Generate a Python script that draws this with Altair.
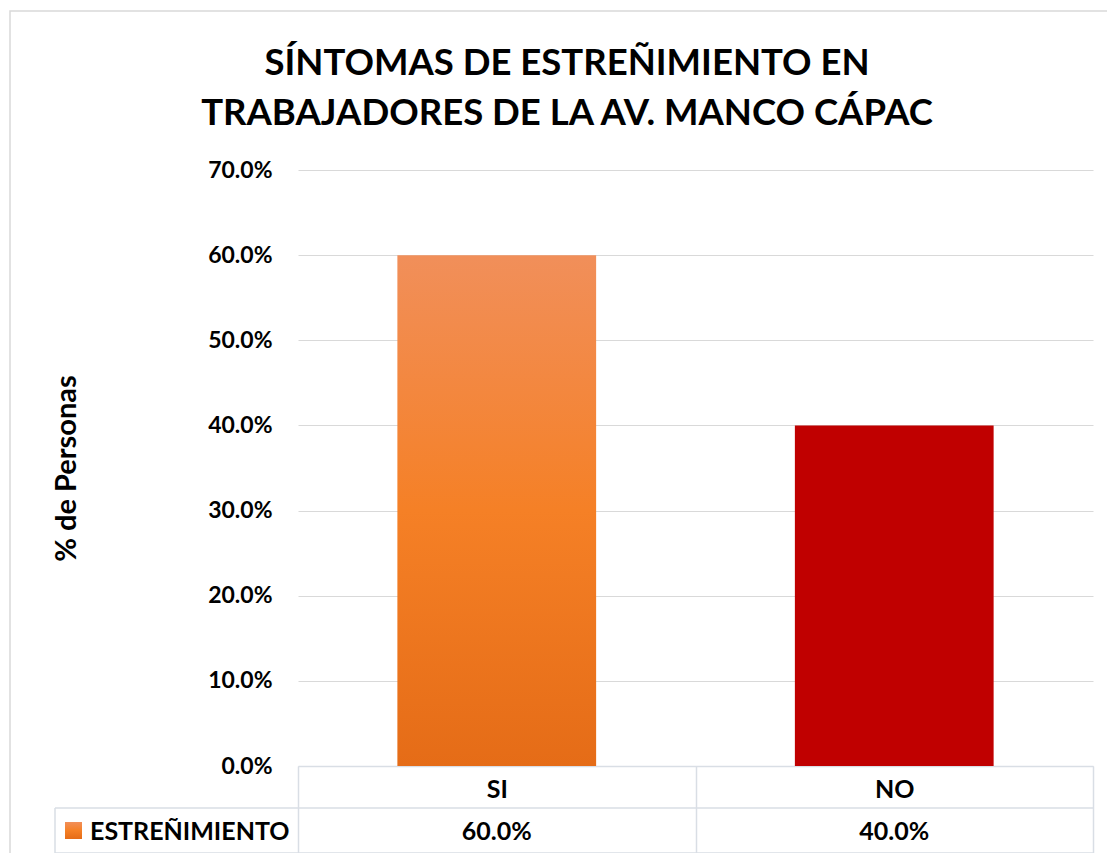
import altair as alt
import pandas as pd

# ---- data ----
categories = ["SI", "NO"]
values = [0.60, 0.40]
series_name = "ESTREÑIMIENTO"
title_line1 = "SÍNTOMAS DE ESTREÑIMIENTO EN"
title_line2 = "TRABAJADORES DE LA AV. MANCO CÁPAC"
y_title = "% de Personas"
y_ticks = [0.0, 0.1, 0.2, 0.3, 0.4, 0.5, 0.6, 0.7]

df = pd.DataFrame({"cat": categories, "val": values})
legend_df = pd.DataFrame({"name": [series_name]})
one = pd.DataFrame({"k": [0]})

FONT = "Lato"
LINE = "#D9DEE5"
GRID = "#D9D9D9"

orange_grad = alt.Gradient(
    gradient="linear",
    stops=[
        alt.GradientStop(color="#F18F5A", offset=0),
        alt.GradientStop(color="#F58026", offset=0.5),
        alt.GradientStop(color="#E56C17", offset=1),
    ],
    x1=0, x2=0, y1=0, y2=1,
)

x_enc = alt.X(
    "cat:N", sort=categories,
    scale=alt.Scale(paddingInner=0, paddingOuter=0),
    axis=alt.Axis(
        title=None, labelAngle=0, labelFont=FONT, labelFontSize=25,
        labelFontWeight="bold", labelColor="black", labelPadding=-76,
        labelBaseline="top",
        domainColor=LINE, domainWidth=1.5, tickColor=LINE, tickWidth=1.5,
        tickSize=87, tickBand="extent", grid=False,
    ),
)
y_enc = alt.Y(
    "val:Q",
    scale=alt.Scale(domain=[0, 0.7]),
    axis=alt.Axis(
        values=y_ticks, format=".1%", title=y_title,
        labelFont=FONT, labelFontSize=23, labelFontWeight="bold", labelColor="black",
        labelPadding=26, ticks=False, domain=False,
        gridColor=GRID, gridWidth=1.2,
        titleFont=FONT, titleFontSize=29, titleFontWeight="bold", titleColor="black",
        titleX=-232, titleY=298, titleAngle=270, titleAlign="center", titleBaseline="middle",
    ),
)

base = alt.Chart(df)

bar_si = base.mark_bar(width={"band": 0.5}, color=orange_grad).encode(
    x=x_enc, y=y_enc
).transform_filter(alt.datum.cat == "SI")

bar_no = base.mark_bar(width={"band": 0.5}, color="#C00000").encode(
    x=x_enc, y=y_enc
).transform_filter(alt.datum.cat == "NO")

value_text = base.mark_text(
    font=FONT, fontSize=25, fontWeight="bold", color="black", baseline="alphabetic"
).encode(x=x_enc, y=alt.value(670), text=alt.Text("val:Q", format=".1%"))

legend_sq = alt.Chart(legend_df).mark_square(size=289, color=orange_grad, opacity=1).encode(
    x=alt.value(-224.5), y=alt.value(660.5)
)
legend_txt = alt.Chart(legend_df).mark_text(
    font=FONT, fontSize=25, fontWeight="bold", color="black", align="left", baseline="alphabetic"
).encode(x=alt.value(-208), y=alt.value(670), text="name:N")

rule_mid = alt.Chart(one).mark_rule(color=LINE, strokeWidth=1.5).encode(
    x=alt.value(-243), x2=alt.value(796), y=alt.value(638)
)
rule_bot = alt.Chart(one).mark_rule(color=LINE, strokeWidth=1.5).encode(
    x=alt.value(-243), x2=alt.value(796), y=alt.value(683)
)
rule_left = alt.Chart(one).mark_rule(color=LINE, strokeWidth=1.5).encode(
    x=alt.value(-243), y=alt.value(638), y2=alt.value(683)
)

border = alt.Chart(one).mark_rect(filled=False, stroke=GRID, strokeWidth=1.5).encode(
    x=alt.value(-288), y=alt.value(-159), x2=alt.value(850), y2=alt.value(720)
)

t1 = alt.Chart(one).mark_text(
    font=FONT, fontSize=36.5, fontWeight="bold", color="black", align="center", baseline="alphabetic"
).encode(x=alt.value(269), y=alt.value(-95), text=alt.value(title_line1))
t2 = alt.Chart(one).mark_text(
    font=FONT, fontSize=36.5, fontWeight="bold", color="black", align="center", baseline="alphabetic"
).encode(x=alt.value(269), y=alt.value(-45), text=alt.value(title_line2))

chart = alt.layer(
    border, bar_si, bar_no, value_text, legend_sq, legend_txt,
    rule_mid, rule_bot, rule_left, t1, t2
).properties(
    width=795, height=596,
    autosize=alt.AutoSizeParams(type="none"),
    padding={"left": 290, "top": 162, "right": 14, "bottom": 87},
    background="white",
).configure_view(stroke=None)

chart.save("out.html", embed_options={"renderer": "svg", "actions": False})
